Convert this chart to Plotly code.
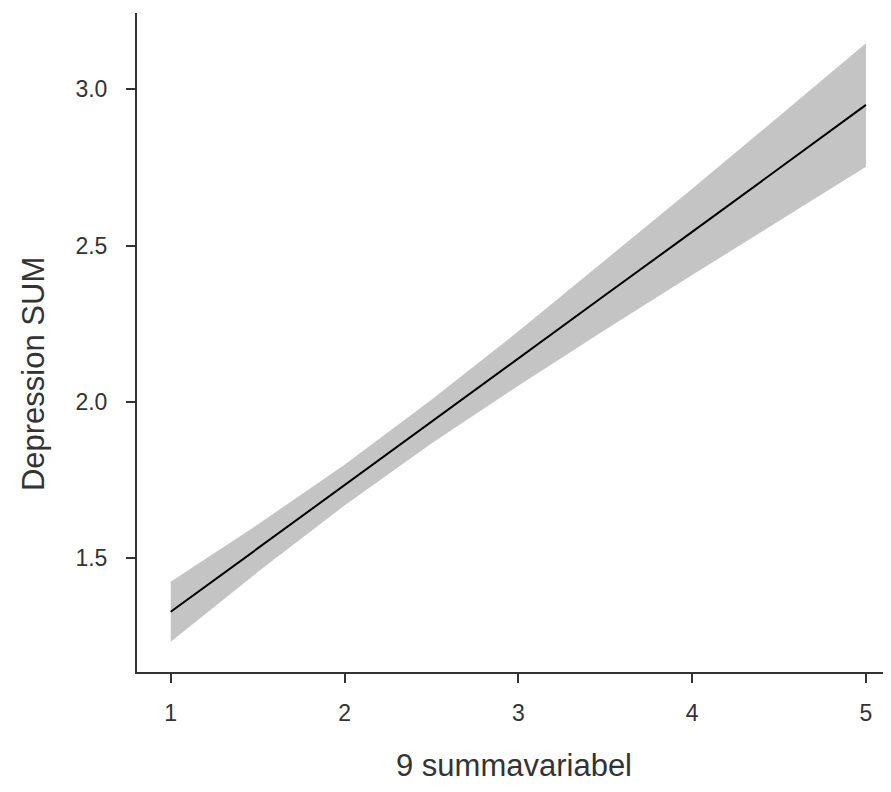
import plotly.graph_objects as go

# Data
x_vals = [1.0, 1.5, 2.0, 2.5, 3.0, 3.5, 4.0, 4.5, 5.0]
fit_vals = [1.329, 1.532, 1.734, 1.937, 2.139, 2.342, 2.544, 2.747, 2.950]
upper_vals = [1.425, 1.608, 1.799, 2.007, 2.226, 2.453, 2.682, 2.914, 3.147]
lower_vals = [1.233, 1.456, 1.669, 1.867, 2.052, 2.231, 2.406, 2.580, 2.752]

x_tickvals = [1, 2, 3, 4, 5]
y_tickvals = [1.5, 2.0, 2.5, 3.0]
y_ticktext = ["1.5", "2.0", "2.5", "3.0"]

FONT = "Liberation Sans, Arial, Helvetica, sans-serif"
TXT = "#333333"

fig = go.Figure()
fig.add_trace(go.Scatter(
    x=x_vals + x_vals[::-1],
    y=upper_vals + lower_vals[::-1],
    fill="toself", fillcolor="rgb(196,196,196)",
    line=dict(width=0), mode="lines", hoverinfo="skip", showlegend=False,
))
fig.add_trace(go.Scatter(
    x=x_vals, y=fit_vals, mode="lines",
    line=dict(color="black", width=2), showlegend=False,
))

# page body has an 8px default margin, so the figure is offset by 8px
fig.update_layout(
    width=883, height=784,
    margin=dict(l=129, r=0, t=5, b=120),
    paper_bgcolor="white", plot_bgcolor="white",
    font=dict(family=FONT, color=TXT),
)
fig.update_xaxes(
    range=[0.806, 5.144], tickvals=x_tickvals, automargin=False,
    showgrid=False, zeroline=False,
    showline=True, linecolor="#333333", linewidth=2,
    ticks="outside", ticklen=9, tickwidth=2, tickcolor="#333333",
    tickfont=dict(size=23, color=TXT), ticklabelstandoff=10,
    title=dict(text="9 summavariabel", font=dict(size=31, color=TXT), standoff=30),
)
fig.update_yaxes(
    range=[1.1365, 3.244], tickvals=y_tickvals, ticktext=y_ticktext, automargin=False,
    showgrid=False, zeroline=False,
    showline=True, linecolor="#333333", linewidth=2,
    ticks="outside", ticklen=9, tickwidth=2, tickcolor="#333333",
    tickfont=dict(size=23, color=TXT), ticklabelstandoff=14,
)
fig.add_annotation(
    text="Depression SUM", textangle=-90, showarrow=False,
    xref="paper", yref="paper", x=-0.138, y=0.452,
    xanchor="center", yanchor="middle",
    font=dict(size=31, color=TXT, family=FONT),
)

fig.write_html("out.html")
